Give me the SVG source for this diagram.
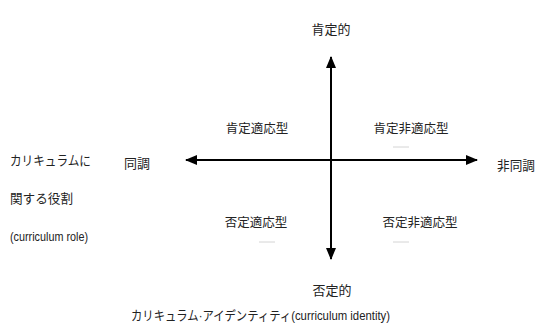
<svg xmlns="http://www.w3.org/2000/svg" width="535" height="327" viewBox="0 0 535 327">
<style>
text{font-family:"Liberation Sans","Noto Sans CJK JP",sans-serif;fill:#222}
.lbl{font-size:13px}
.q{font-size:12.5px;text-anchor:middle}
.ax{stroke:#000;stroke-width:2;fill:none}
.dash{stroke:#d4d4d4;stroke-width:1}
</style>
<defs>
<marker id="ah" viewBox="0 0 12 10" refX="11" refY="5" markerWidth="12" markerHeight="10" markerUnits="userSpaceOnUse" orient="auto">
<path d="M0,0 L12,5 L0,10 Z" fill="#000"/>
</marker>
</defs>
<rect width="535" height="327" fill="#fff"/>
<g id="connectors">
<line class="ax" x1="331" y1="160" x2="186" y2="160" marker-end="url(#ah)"/>
<line class="ax" x1="331" y1="160" x2="477" y2="160" marker-end="url(#ah)"/>
<line class="ax" x1="331" y1="160" x2="331" y2="57" marker-end="url(#ah)"/>
<line class="ax" x1="331" y1="160" x2="331" y2="259" marker-end="url(#ah)"/>
</g>
<g id="top"><text class="lbl" x="331" y="34" text-anchor="middle">肯定的</text></g>
<g id="bottom"><text class="lbl" x="332" y="295" text-anchor="middle">否定的</text></g>
<g id="left"><text class="lbl" x="124" y="168">同調</text></g>
<g id="right"><text class="lbl" x="497" y="170" textLength="38" lengthAdjust="spacingAndGlyphs">非同調</text></g>
<g id="q1"><text class="q" x="257" y="133">肯定適応型</text></g>
<g id="q2"><text class="q" x="411" y="133">肯定非適応型</text><line class="dash" x1="393" y1="147" x2="409" y2="147"/></g>
<g id="q3"><text class="q" x="256" y="227">否定適応型</text><line class="dash" x1="259" y1="242" x2="275" y2="242"/></g>
<g id="q4"><text class="q" x="420" y="227">否定非適応型</text><line class="dash" x1="393" y1="242" x2="409" y2="242"/></g>
<g id="yaxis-title">
<text class="lbl" x="10" y="165" textLength="81" lengthAdjust="spacingAndGlyphs">カリキュラムに</text>
<text class="lbl" x="10" y="203" textLength="63" lengthAdjust="spacingAndGlyphs">関する役割</text>
<text class="lbl" x="10" y="241" textLength="78" lengthAdjust="spacingAndGlyphs">(curriculum  role)</text>
</g>
<g id="xaxis-title"><text class="lbl" x="131" y="320" textLength="259" lengthAdjust="spacingAndGlyphs">カリキュラム·アイデンティティ(curriculum identity)</text></g>
</svg>
